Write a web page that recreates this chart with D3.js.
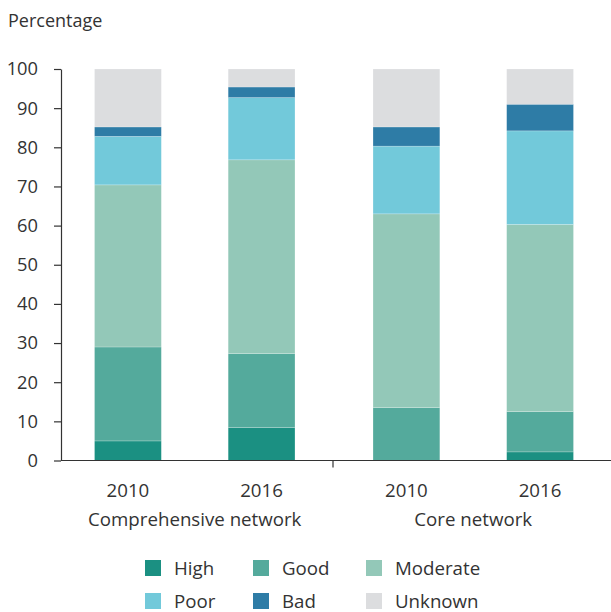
<!DOCTYPE html>
<html>
<head>
<meta charset="utf-8">
<script src="https://cdn.jsdelivr.net/npm/d3@7"></script>
<style>
  html, body { margin: 0; padding: 0; background: #fff; }
  svg { display: block; font-family: "Open Sans", sans-serif; }
</style>
</head>
<body>
<svg id="chart" width="611" height="612"></svg>
<script>
// Ecological status of water bodies by network, share of total (%)
const networks = ["Comprehensive network", "Core network"];
const years = ["2010", "2016"];
const statuses = ["High", "Good", "Moderate", "Poor", "Bad", "Unknown"];
const colors = ["#1b9082", "#54aa9c", "#93c8b8", "#72c9da", "#2e7ca6", "#dcdddf"];

const comprehensive2010 = [5.0, 24.0, 41.4, 12.4, 2.4, 14.8];
const comprehensive2016 = [8.4, 18.9, 49.5, 15.9, 2.7, 4.6];
const core2010 = [0.0, 13.5, 49.5, 17.3, 4.9, 14.8];
const core2016 = [2.2, 10.3, 47.8, 23.9, 6.8, 9.0];

const yTicks = [0, 10, 20, 30, 40, 50, 60, 70, 80, 90, 100];

const rows = [
  { network: networks[0], year: years[0], values: comprehensive2010 },
  { network: networks[0], year: years[1], values: comprehensive2016 },
  { network: networks[1], year: years[0], values: core2010 },
  { network: networks[1], year: years[1], values: core2016 }
].map(r => {
  const o = { network: r.network, year: r.year };
  statuses.forEach((s, i) => o[s] = r.values[i]);
  return o;
});

const svg = d3.select("#chart");
const textColor = "#333";
const axisX = 61;
const yTop = 69, yBottom = 460.5;

const y = d3.scaleLinear().domain([0, 100]).range([yBottom, yTop]);
const x0 = d3.scaleBand().domain(networks).range([55.5, 612.5]).padding(0);
const x1 = d3.scaleBand().domain(years).range([0, x0.bandwidth()])
  .paddingInner(0.5).paddingOuter(0.292);
const color = d3.scaleOrdinal().domain(statuses).range(colors);

const stacked = d3.stack().keys(statuses)(rows);

// Stacked bars
svg.append("g")
  .selectAll("g")
  .data(stacked)
  .join("g")
  .attr("fill", d => color(d.key))
  .selectAll("rect")
  .data(d => d)
  .join("rect")
  .attr("x", d => x0(d.data.network) + x1(d.data.year))
  .attr("width", x1.bandwidth())
  .attr("y", d => y(d[1]))
  .attr("height", d => y(d[0]) - y(d[1]))
  .attr("stroke", "rgba(255,255,255,0.35)")
  .attr("stroke-width", 0.6);

// Y axis
const yAxis = svg.append("g")
  .attr("transform", `translate(${axisX},0)`)
  .call(d3.axisLeft(y).tickValues(yTicks).tickSize(7).tickPadding(16).tickSizeOuter(0));
yAxis.select(".domain").attr("stroke", textColor).attr("stroke-width", 1.2);
yAxis.selectAll(".tick line").attr("stroke", textColor).attr("stroke-width", 1.2);
yAxis.selectAll(".tick text")
  .attr("fill", textColor)
  .style("font-size", "18.3px")
  .style("font-family", "'Open Sans', sans-serif");

// X axis baseline with group separator tick
svg.append("line")
  .attr("x1", axisX).attr("x2", 611)
  .attr("y1", y(0)).attr("y2", y(0))
  .attr("stroke", textColor).attr("stroke-width", 1.2);
svg.append("line")
  .attr("x1", x0(networks[1]) - 1).attr("x2", x0(networks[1]) - 1)
  .attr("y1", y(0)).attr("y2", y(0) + 7)
  .attr("stroke", textColor).attr("stroke-width", 1.2);

// Year labels
svg.append("g")
  .selectAll("text")
  .data(rows)
  .join("text")
  .attr("x", d => x0(d.network) + x1(d.year) + x1.bandwidth() / 2)
  .attr("y", 497)
  .attr("text-anchor", "middle")
  .attr("fill", textColor)
  .style("font-size", "18.7px")
  .text(d => d.year);

// Network labels
svg.append("g")
  .selectAll("text")
  .data(networks)
  .join("text")
  .attr("x", d => x0(d) + x0.bandwidth() / 2)
  .attr("y", 526)
  .attr("text-anchor", "middle")
  .attr("fill", textColor)
  .style("font-size", "18.7px")
  .text(d => d);

// Axis title
svg.append("text")
  .attr("x", 8).attr("y", 27)
  .attr("fill", textColor)
  .style("font-size", "18px")
  .text("Percentage");

// Legend
const legendCols = [145, 253, 366];
const legendRows = [560, 593];
const legend = svg.append("g")
  .selectAll("g")
  .data(statuses)
  .join("g")
  .attr("transform", (d, i) => `translate(${legendCols[i % 3]},${legendRows[Math.floor(i / 3)]})`);
legend.append("rect")
  .attr("width", 16).attr("height", 16)
  .attr("fill", d => color(d));
legend.append("text")
  .attr("x", 29).attr("y", 15)
  .attr("fill", textColor)
  .style("font-size", "18.7px")
  .text(d => d);
</script>
</body>
</html>
